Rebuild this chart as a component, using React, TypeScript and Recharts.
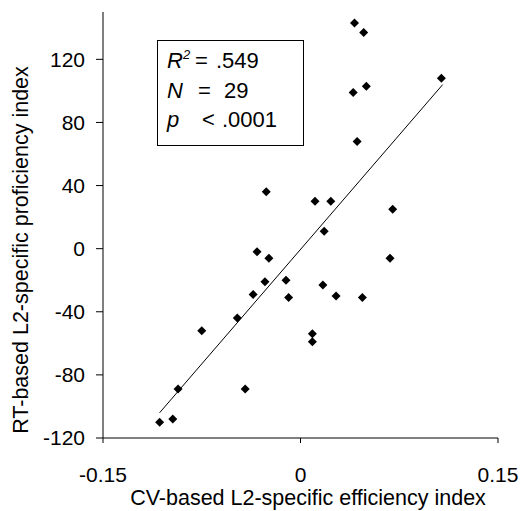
import {
    ScatterChart,
    Scatter,
    XAxis,
    YAxis,
    ReferenceLine,
    Customized,
} from "recharts";

const FONT = "'Liberation Sans', Arial, Helvetica, sans-serif";

// CV-based efficiency (x) vs RT-based proficiency (y), 29 participants
const cvIndex = [
    0.041, 0.048, 0.107, 0.05, 0.04, 0.043, -0.026, 0.011, 0.023, 0.07,
    0.018, -0.033, -0.024, 0.068, -0.027, -0.011, 0.017, -0.036, 0.027, 0.047,
    -0.009, -0.075, -0.048, 0.009, 0.009, -0.042, -0.093, -0.097, -0.107,
];
const rtIndex = [
    143, 137, 108, 103, 99, 68, 36, 30, 30, 25,
    11, -2, -6, -6, -21, -20, -23, -29, -30, -31,
    -31, -52, -44, -54, -59, -89, -89, -108, -110,
];

// regression line end points
const fitX = [-0.107, 0.108];
const fitY = [-104, 104];

const xTicks = [-0.15, 0, 0.15];
const yTicks = [-120, -80, -40, 0, 40, 80, 120];

const points = cvIndex.map((x, i) => ({ x, y: rtIndex[i] }));

const Diamond = (props: any) => {
    const { cx, cy } = props;
    const r = 4.5;
    return (
        <polygon
            points={`${cx},${cy - r} ${cx + r},${cy} ${cx},${cy + r} ${cx - r},${cy}`}
            fill="#000"
        />
    );
};

const Annotations = () => (
    <g style={{ fontFamily: FONT }} fill="#000">
        <rect x={157.5} y={40.5} width={146} height={105} fill="none" stroke="#000" strokeWidth={1} />
        <text x={167} y={68} fontSize={22} fontStyle="italic">R</text>
        <text x={183} y={59} fontSize={13} fontStyle="italic">2</text>
        <text x={195} y={68} fontSize={22}>=</text>
        <text x={216} y={68} fontSize={22}>.549</text>
        <text x={167} y={98} fontSize={22} fontStyle="italic">N</text>
        <text x={198} y={98} fontSize={22}>=</text>
        <text x={224} y={98} fontSize={22}>29</text>
        <text x={167} y={127} fontSize={22} fontStyle="italic">p</text>
        <text x={202} y={127} fontSize={22}>&lt;</text>
        <text x={222} y={127} fontSize={22}>.0001</text>
        <text x={308} y={505} fontSize={21.5} textAnchor="middle">
            CV-based L2-specific efficiency index
        </text>
        <text
            x={28}
            y={250}
            fontSize={21.5}
            textAnchor="middle"
            transform="rotate(-90 28 250)"
        >
            RT-based L2-specific proficiency index
        </text>
    </g>
);

export default function App() {
    return (
        <div style={{ position: "absolute", left: 0, top: 0, background: "#fff" }}>
            <ScatterChart
                width={521}
                height={511}
                margin={{ top: 12, right: 23, bottom: 23, left: 43 }}
            >
                <XAxis
                    type="number"
                    dataKey="x"
                    domain={[-0.15, 0.15]}
                    ticks={xTicks}
                    tickFormatter={(v: number) => (v === 0 ? "0" : v.toFixed(2))}
                    height={50}
                    tickSize={5}
                    tickMargin={24}
                    stroke="#000"
                    tick={{ fill: "#000", fontSize: 21, fontFamily: FONT }}
                    axisLine={{ stroke: "#000" }}
                    tickLine={{ stroke: "#000" }}
                />
                <YAxis
                    type="number"
                    dataKey="y"
                    domain={[-120, 150]}
                    ticks={yTicks}
                    width={60}
                    tickSize={7}
                    tickMargin={11}
                    stroke="#000"
                    tick={{ fill: "#000", fontSize: 21, fontFamily: FONT }}
                    axisLine={{ stroke: "#000" }}
                    tickLine={{ stroke: "#000" }}
                />
                <ReferenceLine
                    segment={[
                        { x: fitX[0], y: fitY[0] },
                        { x: fitX[1], y: fitY[1] },
                    ]}
                    stroke="#000"
                    strokeWidth={1}
                />
                <Scatter data={points} shape={<Diamond />} isAnimationActive={false} />
                <Customized component={<Annotations />} />
            </ScatterChart>
        </div>
    );
}
